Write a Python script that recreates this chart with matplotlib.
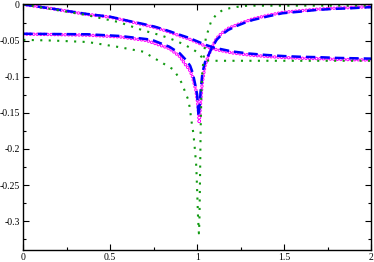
import matplotlib
matplotlib.use("Agg")
import matplotlib.pyplot as plt
from matplotlib.ticker import MultipleLocator, FormatStrFormatter

plt.rcParams['lines.scale_dashes'] = False
plt.rcParams['axes.unicode_minus'] = False
plt.rcParams['font.family'] = ['Liberation Serif', 'DejaVu Serif']

# smooth curves (start at 0)
xs_blue = [0, 0.17, 0.36, 0.5, 0.61, 0.69, 0.76, 0.84, 0.9, 0.95, 1.0, 1.05, 1.1,
           1.2, 1.3, 1.4, 1.5, 1.6, 1.7, 1.8, 1.9, 2.0]
ys_blue = [0, -0.006, -0.013, -0.017, -0.023, -0.027, -0.031, -0.037, -0.042, -0.046,
           -0.051, -0.056, -0.060, -0.065, -0.068, -0.070, -0.0715, -0.0725, -0.073,
           -0.074, -0.0745, -0.075]
ys_mag = [0, -0.006, -0.0135, -0.0175, -0.0235, -0.028, -0.032, -0.038, -0.0435, -0.0475,
          -0.0525, -0.058, -0.062, -0.067, -0.070, -0.072, -0.0735, -0.0745, -0.075,
          -0.076, -0.0765, -0.077]
xs_green = [0, 0.2, 0.37, 0.55, 0.69, 0.735, 0.78, 0.83, 0.874, 0.916, 0.96, 1.0,
            1.02, 1.035, 1.05, 1.1, 2.0]
ys_green = [0, -0.008, -0.015, -0.0245, -0.036, -0.039, -0.042, -0.046, -0.050,
            -0.0545, -0.060, -0.066, -0.071, -0.076, -0.0775, -0.078, -0.078]

# resonant curves (dip at x = 1)
xr_blue = [0, 0.2, 0.37, 0.56, 0.71, 0.75, 0.84, 0.90, 0.94, 0.96, 0.975, 0.99, 1.0,
           1.008, 1.014, 1.02, 1.03, 1.045, 1.064, 1.083, 1.112, 1.141, 1.179, 1.227,
           1.275, 1.32, 1.40, 1.49, 1.59, 1.687, 1.78, 1.88, 1.98, 2.0]
yr_blue = [-0.0406, -0.041, -0.0413, -0.0437, -0.048, -0.050, -0.0585, -0.0676, -0.078,
           -0.085, -0.095, -0.112, -0.125, -0.155, -0.14, -0.12, -0.095, -0.080,
           -0.0707, -0.061, -0.049, -0.042, -0.0353, -0.0298, -0.0252, -0.0215,
           -0.0169, -0.0122, -0.010, -0.0076, -0.0062, -0.0053, -0.0039, -0.0037]
xr_mag = [0, 0.2, 0.37, 0.56, 0.71, 0.84, 0.9, 0.93, 0.955, 0.972, 0.993, 1.005, 1.012,
          1.02, 1.029, 1.045, 1.065, 1.083, 1.112, 1.14, 1.18, 1.23, 1.28, 1.32, 1.4,
          1.49, 1.59, 1.69, 1.78, 1.88, 2.0]
yr_mag = [-0.041, -0.0418, -0.0425, -0.045, -0.050, -0.061, -0.072, -0.0825, -0.090,
          -0.099, -0.119, -0.14, -0.164, -0.135, -0.109, -0.085, -0.071, -0.060,
          -0.047, -0.040, -0.033, -0.028, -0.0235, -0.020, -0.0155, -0.011, -0.0088,
          -0.0066, -0.0053, -0.0043, -0.003]
xr_green = [0, 0.17, 0.37, 0.55, 0.69, 0.786, 0.863, 0.893, 0.916, 0.931, 0.949, 0.958,
            0.964, 0.97, 0.978, 0.987, 0.995, 1.0, 1.005, 1.01, 1.013, 1.016, 1.02,
            1.025, 1.03, 1.035, 1.04, 1.05, 1.065, 1.08, 1.11, 1.145, 1.19, 1.24, 1.29,
            2.0]
yr_green = [-0.049, -0.050, -0.052, -0.059, -0.0654, -0.079, -0.090, -0.1007, -0.111,
            -0.1215, -0.132, -0.1437, -0.155, -0.166, -0.178, -0.2007, -0.224, -0.258,
            -0.294, -0.317, -0.30, -0.25, -0.175, -0.116, -0.091, -0.081, -0.068,
            -0.046, -0.035, -0.0235, -0.014, -0.008, -0.005, -0.003, -0.0017, -0.0016]

fig = plt.figure(figsize=(3.74, 2.62), dpi=100)
ax = fig.add_axes([0.0623, 0.0458, 0.992 - 0.0623, 0.983 - 0.0458])

green = '#119a11'
# magenta open circles: ring made of two dotted strokes
for x, y in [(xs_blue, ys_mag), (xr_mag, yr_mag)]:
    ax.plot(x, y, color='#ff00ff', lw=2.5, dashes=(0.01, 2.5), dash_capstyle='round')
    ax.plot(x, y, color='white', lw=1.1, dashes=(0.01, 2.5), dash_capstyle='round')
for x, y in [(xs_blue, ys_blue), (xr_blue, yr_blue)]:
    ax.plot(x, y, color='#0000ff', lw=1.8, dashes=(6.8, 3.6), dash_capstyle='butt')
for x, y in [(xs_green, ys_green), (xr_green, yr_green)]:
    ax.plot(x, y, color=green, lw=1.5, dashes=(1.5, 4.6), dash_capstyle='butt')

ax.set_xlim(0, 2)
ax.set_ylim(-0.34, 0)
ax.xaxis.set_major_locator(MultipleLocator(0.5))
ax.xaxis.set_minor_locator(MultipleLocator(0.25))
ax.yaxis.set_major_locator(MultipleLocator(0.05))
ax.yaxis.set_minor_locator(MultipleLocator(0.025))
ax.xaxis.set_major_formatter(FormatStrFormatter('%g'))
ax.yaxis.set_major_formatter(FormatStrFormatter('%g'))
ax.tick_params(which='both', direction='in', top=True, right=True, labelsize=7,
               width=0.8, pad=2.5)
ax.tick_params(which='major', length=4.3)
ax.tick_params(which='minor', length=2.2)
for s in ax.spines.values():
    s.set_linewidth(1.0)

fig.savefig('out.png', dpi=100)
